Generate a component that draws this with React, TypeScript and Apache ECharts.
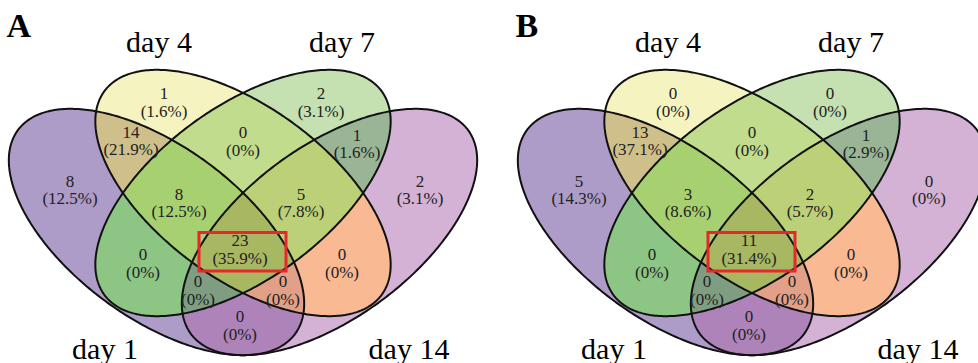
import React, { useEffect, useRef } from "react";
import * as echarts from "echarts";

// ---------------- data ----------------
const SET_NAMES = ["day 1", "day 4", "day 7", "day 14"];
const PANEL_LETTERS = ["A", "B"];
// region membership: bit0 = day 1, bit1 = day 4, bit2 = day 7, bit3 = day 14
const REGION_MASKS = [
  0b0001, 0b0010, 0b0100, 0b1000, 0b0011, 0b0110, 0b1100, 0b0111,
  0b1110, 0b1111, 0b0101, 0b1010, 0b1101, 0b1011, 0b1001,
];
const COUNTS_A = [8, 1, 2, 2, 14, 0, 1, 8, 5, 23, 0, 0, 0, 0, 0];
const COUNTS_B = [5, 0, 0, 0, 13, 0, 1, 3, 2, 11, 0, 0, 0, 0, 0];

// ---------------- layout / style ----------------
const W = 978;
const H = 363;
const PANEL_X = [0, 509];
const ELL_A = 172;
const ELL_B = 86;
const ELLIPSES = [
  { cx: 156.5, cy: 232, rot: 36.3 },
  { cx: 243, cy: 193, rot: 36.3 },
  { cx: 243, cy: 193, rot: -36.3 },
  { cx: 329.5, cy: 232, rot: -36.3 },
];
const LABEL_POS = [
  [70, 190], [164, 102.5], [321, 102.5], [420, 190], [131, 141],
  [243, 141.5], [357, 144], [179, 203], [301, 203], [240, 249.5],
  [143, 263.5], [342, 263.5], [198, 290.5], [283, 290.5], [240, 325.5],
];
const REGION_COLORS = [
  "#ad9bc8", "#f5f4c0", "#c5e0b1", "#d3b2d5", "#cebf8b",
  "#c2dc8d", "#99b595", "#a7d171", "#bcd077", "#a8b862",
  "#8dc585", "#f8b993", "#7f9e81", "#e1a087", "#ae83b9",
];
const SET_LABEL_POS = [[105, 348], [159, 41.5], [342, 41.5], [409, 348]];
const LETTER_POS = [6.5, 25];
const BOX = { x: 199, y: 232.5, w: 87, h: 38.5 };
const SERIF = '"Liberation Serif", "Times New Roman", serif';

const N = 360;

function ellipsePts(k: number, off: number): number[][] {
  const e = ELLIPSES[k];
  const t = (e.rot * Math.PI) / 180;
  const c = Math.cos(t);
  const s = Math.sin(t);
  const pts: number[][] = [];
  for (let i = 0; i < N; i++) {
    const u = (2 * Math.PI * i) / N;
    const px = ELL_A * Math.cos(u);
    const py = ELL_B * Math.sin(u);
    pts.push([e.cx + off + px * c - py * s, e.cy + px * s + py * c]);
  }
  return pts;
}

function signedArea(p: number[][]) {
  let a = 0;
  for (let i = 0; i < p.length; i++) {
    const q = p[(i + 1) % p.length];
    a += p[i][0] * q[1] - q[0] * p[i][1];
  }
  return a / 2;
}

function clip(subject: number[][], clipPoly: number[][]): number[][] {
  const sgn = signedArea(clipPoly) > 0 ? 1 : -1;
  let output = subject;
  const n = clipPoly.length;
  for (let i = 0; i < n; i++) {
    const A = clipPoly[i];
    const B = clipPoly[(i + 1) % n];
    const input = output;
    output = [];
    if (!input.length) break;
    const inside = (p: number[]) =>
      sgn * ((B[0] - A[0]) * (p[1] - A[1]) - (B[1] - A[1]) * (p[0] - A[0])) >= 0;
    const inter = (S: number[], E: number[]) => {
      const dx = E[0] - S[0];
      const dy = E[1] - S[1];
      const ex = B[0] - A[0];
      const ey = B[1] - A[1];
      const denom = dx * ey - dy * ex;
      const t = ((A[0] - S[0]) * ey - (A[1] - S[1]) * ex) / denom;
      return [S[0] + t * dx, S[1] + t * dy];
    };
    let S = input[input.length - 1];
    for (const E of input) {
      if (inside(E)) {
        if (!inside(S)) output.push(inter(S, E));
        output.push(E);
      } else if (inside(S)) {
        output.push(inter(S, E));
      }
      S = E;
    }
  }
  return output;
}

function popcount(m: number) {
  let c = 0;
  while (m) {
    c += m & 1;
    m >>= 1;
  }
  return c;
}

function pct(count: number, total: number) {
  if (count === 0) return "0%";
  return ((count / total) * 100).toFixed(1) + "%";
}

export default function App() {
  const ref = useRef<HTMLDivElement>(null);

  useEffect(() => {
    const chart = echarts.init(ref.current!, undefined, { renderer: "svg" });
    const panels = [COUNTS_A, COUNTS_B];
    const totals = panels.map((c) => c.reduce((s, v) => s + v, 0));

    const order = REGION_MASKS.map((_, i) => i).sort(
      (i, j) => popcount(REGION_MASKS[i]) - popcount(REGION_MASKS[j])
    );

    const fillData: number[][] = [];
    const labelData: number[][] = [];
    const outlineData: number[][] = [];
    const setLabelData: number[][] = [];
    const letterData: number[][] = [];
    for (let p = 0; p < 2; p++) {
      for (const i of order) fillData.push([PANEL_X[p] + LABEL_POS[i][0], LABEL_POS[i][1], p, i]);
      for (let i = 0; i < REGION_MASKS.length; i++)
        labelData.push([PANEL_X[p] + LABEL_POS[i][0], LABEL_POS[i][1], p, i]);
      for (let k = 0; k < 4; k++) {
        outlineData.push([PANEL_X[p] + ELLIPSES[k].cx, ELLIPSES[k].cy, p, k]);
        setLabelData.push([PANEL_X[p] + SET_LABEL_POS[k][0], SET_LABEL_POS[k][1], p, k]);
      }
      letterData.push([PANEL_X[p] + LETTER_POS[0], LETTER_POS[1], p]);
    }

    const toPx = (api: any, pts: number[][]) => pts.map((q) => api.coord(q));

    chart.setOption({
      animation: false,
      backgroundColor: "#ffffff",
      grid: { left: 0, right: 0, top: 0, bottom: 0 },
      xAxis: { type: "value", min: 0, max: W, show: false },
      yAxis: { type: "value", min: 0, max: H, inverse: true, show: false },
      series: [
        {
          type: "custom",
          z: 1,
          clip: false,
          silent: true,
          data: fillData,
          renderItem: (params: any, api: any) => {
            const p = api.value(2);
            const i = api.value(3);
            const mask = REGION_MASKS[i];
            let poly: number[][] | null = null;
            for (let k = 0; k < 4; k++) {
              if (!(mask & (1 << k))) continue;
              const e = ellipsePts(k, PANEL_X[p]);
              poly = poly ? clip(poly, e) : e;
            }
            if (!poly || poly.length < 3) return null;
            return {
              type: "polygon",
              shape: { points: toPx(api, poly) },
              style: { fill: REGION_COLORS[i], stroke: REGION_COLORS[i], lineWidth: 0.6 },
            };
          },
        },
        {
          type: "custom",
          z: 2,
          clip: false,
          silent: true,
          data: outlineData,
          renderItem: (params: any, api: any) => {
            const p = api.value(2);
            const k = api.value(3);
            return {
              type: "polygon",
              shape: { points: toPx(api, ellipsePts(k, PANEL_X[p])) },
              style: { fill: "none", stroke: "#111111", lineWidth: 2 },
            };
          },
        },
        {
          type: "custom",
          z: 3,
          clip: false,
          silent: true,
          data: labelData,
          renderItem: (params: any, api: any) => {
            const p = api.value(2);
            const i = api.value(3);
            const c = api.coord([api.value(0), api.value(1)]);
            const count = panels[p][i];
            const children: any[] = [
              {
                type: "text",
                style: {
                  text: `${count}\n(${pct(count, totals[p])})`,
                  x: c[0],
                  y: c[1],
                  align: "center",
                  verticalAlign: "middle",
                  fontSize: 17,
                  lineHeight: 17.5,
                  fontFamily: SERIF,
                  fill: "#222222",
                },
              },
            ];
            if (REGION_MASKS[i] === 0b1111) {
              const a = api.coord([PANEL_X[p] + BOX.x, BOX.y]);
              const b = api.coord([PANEL_X[p] + BOX.x + BOX.w, BOX.y + BOX.h]);
              children.push({
                type: "rect",
                shape: { x: a[0], y: a[1], width: b[0] - a[0], height: b[1] - a[1] },
                style: { fill: "none", stroke: "#e8262b", lineWidth: 3 },
              });
            }
            return { type: "group", children };
          },
        },
        {
          type: "custom",
          z: 3,
          clip: false,
          silent: true,
          data: setLabelData,
          renderItem: (params: any, api: any) => {
            const k = api.value(3);
            const c = api.coord([api.value(0), api.value(1)]);
            return {
              type: "text",
              style: {
                text: SET_NAMES[k],
                x: c[0],
                y: c[1],
                align: "center",
                verticalAlign: "middle",
                fontSize: 30,
                fontFamily: SERIF,
                fill: "#000000",
              },
            };
          },
        },
        {
          type: "custom",
          z: 3,
          clip: false,
          silent: true,
          data: letterData,
          renderItem: (params: any, api: any) => {
            const p = api.value(2);
            const c = api.coord([api.value(0), api.value(1)]);
            return {
              type: "text",
              style: {
                text: PANEL_LETTERS[p],
                x: c[0],
                y: c[1],
                align: "left",
                verticalAlign: "middle",
                fontSize: 34,
                fontWeight: "bold",
                fontFamily: SERIF,
                fill: "#000000",
              },
            };
          },
        },
      ],
    });

    return () => chart.dispose();
  }, []);

  return (
    <div
      ref={ref}
      style={{ position: "absolute", left: 0, top: 0, width: W, height: H }}
    />
  );
}
